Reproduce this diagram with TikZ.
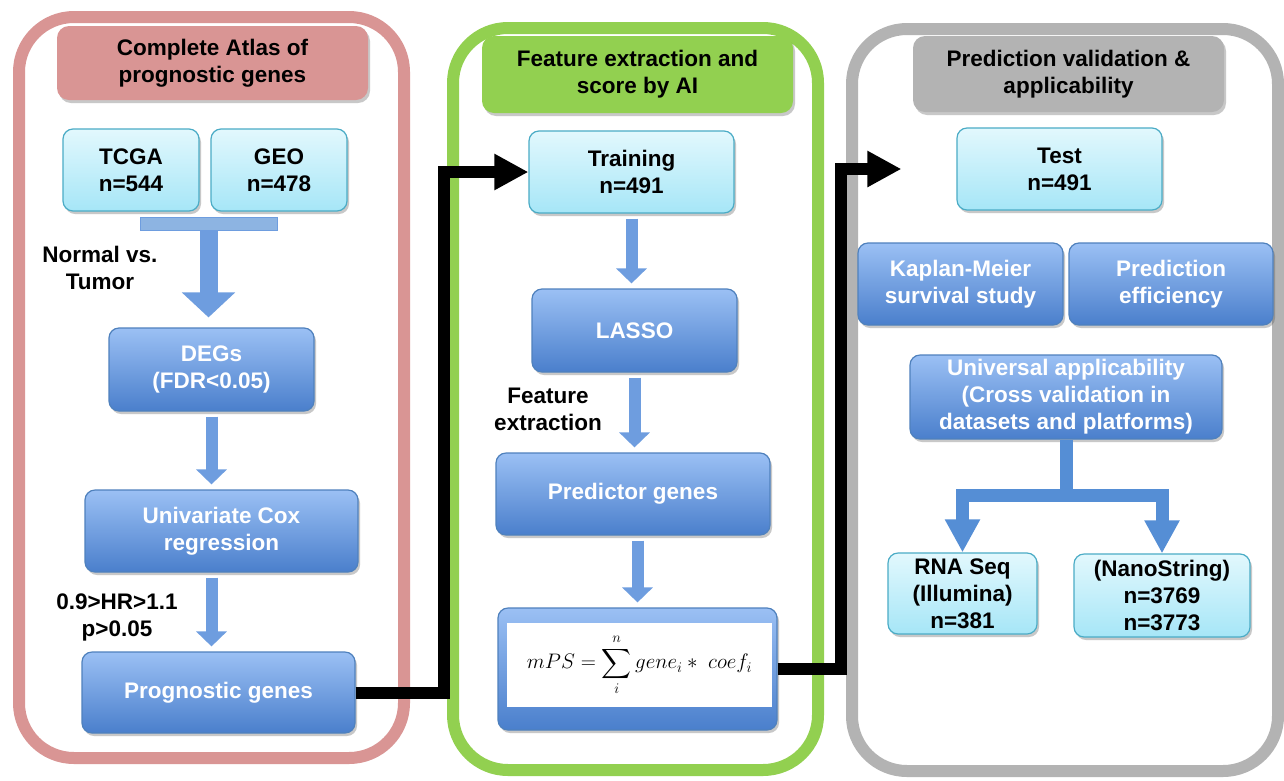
\RequirePackage{fix-cm}
\documentclass[tikz,border=0pt]{standalone}
\usepackage{amsmath}
\usepackage{fontspec}
\setmainfont{Liberation Sans}
\usepackage{tikz}
\usetikzlibrary{arrows.meta,positioning,shadows,calc}
\usepackage{xcolor}
\definecolor{AtlasPink}{HTML}{D99594}
\definecolor{FeatureGreen}{HTML}{92D050}
\definecolor{ValidGray}{HTML}{B3B3B3}
\definecolor{DataCyanTop}{HTML}{E2F8FD}
\definecolor{DataCyanBottom}{HTML}{A6E6F7}
\definecolor{DataCyanEdge}{HTML}{4BACC6}
\definecolor{StepBlueTop}{HTML}{9BC0F4}
\definecolor{StepBlueBottom}{HTML}{4A7FCC}
\definecolor{StepBlueEdge}{HTML}{4F81BD}
\definecolor{FlowBlue}{HTML}{6E9DDF}
\definecolor{FlowBlueLight}{HTML}{8DB4E2}
\definecolor{SplitBlue}{HTML}{558ED5}
\newcommand{\flowfont}{\fontsize{22.5}{27}\selectfont\bfseries}
\tikzset{
  boxshadow/.style={drop shadow={shadow xshift=2pt,shadow yshift=-3pt,opacity=0.3,fill=black!70}},
  panelframe/.style={draw=#1,line width=12pt,rounded corners=55pt,fill=white,drop shadow={shadow xshift=3pt,shadow yshift=-4pt,opacity=0.2,fill=black!70}},
  headbox/.style={fill=#1,rounded corners=12pt,minimum width=311pt,minimum height=76pt,inner sep=0pt,align=center,font=\flowfont,boxshadow},
  databox/.style={draw=DataCyanEdge,line width=1.2pt,top color=DataCyanTop,bottom color=DataCyanBottom,rounded corners=10pt,minimum height=82pt,inner sep=0pt,align=center,font=\flowfont,boxshadow},
  stepbox/.style={draw=StepBlueEdge,line width=1.2pt,top color=StepBlueTop,bottom color=StepBlueBottom,rounded corners=10pt,minimum height=82pt,inner sep=0pt,align=center,text=white,font=\flowfont,boxshadow},
  note/.style={align=center,font=\flowfont},
  tbarnode/.style={draw=FlowBlue,line width=1pt,fill=FlowBlueLight,minimum width=137pt,minimum height=13pt,inner sep=0pt},
  flowarrow/.style={-{Triangle[width=30pt,length=15pt]},line width=12pt,draw=FlowBlue,shorten <=5pt,shorten >=5pt},
  tarrow/.style={-{Triangle[width=52pt,length=25pt]},line width=18pt,draw=FlowBlue,shorten >=10pt},
  splitline/.style={line width=13pt,draw=SplitBlue},
  splitarrow/.style={-{Triangle[width=33pt,length=33pt]},line width=13pt,draw=SplitBlue},
  linkarrow/.style={-{Triangle[width=34pt,length=34pt]},line width=12pt,draw=black}
}

\begin{document}
\begin{tikzpicture}[x=1pt,y=-1pt]
\fill[white] (0,0) rectangle (1284,780);
\useasboundingbox (0,0) rectangle (1284,780);

% panels
\node[panelframe=AtlasPink,minimum width=385pt,minimum height=741pt] (atlas) at (211.5,387.5) {};
\node[panelframe=FeatureGreen,minimum width=365pt,minimum height=742pt] (feature) at (635.5,399) {};
\node[panelframe=ValidGray,minimum width=426pt,minimum height=742pt] (valid) at (1065,400) {};

\node[headbox=AtlasPink,minimum height=74pt] (atlashead) at (212.5,63) {Complete Atlas of\\prognostic genes};
\node[headbox=FeatureGreen,minimum height=77pt] (featurehead) at (637.5,74.5) {Feature extraction and\\score by AI};
\node[headbox=ValidGray] (validhead) at (1068.5,74) {Prediction validation \&\\applicability};

% left panel
\node[databox,minimum width=136pt] (tcga) at (131,170) {TCGA\\n=544};
\node[databox,minimum width=136pt] (geo) at (279,170) {GEO\\n=478};
\node[tbarnode] (tbar) at (208.5,223.5) {};
\node[stepbox,minimum width=205pt,minimum height=83pt] (degs) at (211.5,369.5) {DEGs\\(FDR<0.05)};
\node[stepbox,minimum width=273pt] (unicox) at (221.5,531) {Univariate Cox\\regression};
\node[stepbox,minimum width=273pt,minimum height=81pt] (prog) at (218.5,692.5) {Prognostic genes};
\node[note] (normtum) at (100,268) {Normal vs.\\Tumor};
\node[note] (hrcut) at (117,617) {0.9>HR>1.1\\p>0.05};

% middle panel
\node[databox,minimum width=205pt] (training) at (631.5,172) {Training\\n=491};
\node[stepbox,minimum width=205pt,minimum height=83pt] (lasso) at (634.5,330.5) {LASSO};
\node[stepbox,minimum width=274pt] (predictor) at (633,494) {Predictor genes};
\node[stepbox,minimum width=279pt,minimum height=122pt] (mps) at (637.5,669) {};
\node[fill=white,minimum width=265pt,minimum height=84pt,inner sep=0pt,font=\fontsize{21}{25}\selectfont] (mpsform) at (639.5,665)
  {$\displaystyle mPS=\sum_{i}^{n} gene_i \ast\ coef_i$};
\node[note] (featlabel) at (548,409) {Feature\\extraction};

% right panel
\node[databox,minimum width=205pt] (test) at (1059.5,169) {Test\\n=491};
\node[stepbox,minimum width=205pt] (kmstudy) at (960.5,284) {Kaplan-Meier\\survival study};
\node[stepbox,minimum width=204pt] (predeff) at (1171,284) {Prediction\\efficiency};
\node[stepbox,minimum width=312pt,minimum height=84pt] (universal) at (1066,397) {Universal applicability\\(Cross validation in\\datasets and platforms)};
\node[databox,minimum width=149pt,minimum height=81pt] (rnaseq) at (962.5,593.5) {RNA Seq\\(Illumina)\\n=381};
\node[databox,minimum width=176pt,minimum height=83pt] (nano) at (1162,595.5) {(NanoString)\\n=3769\\n=3773};

% block arrows
\draw[tarrow] (tbar.south) -- (tbar.south |- degs.north);
\draw[flowarrow] (degs.south) -- (degs.south |- unicox.north);
\draw[flowarrow] (unicox.south -| degs.south) -- (degs.south |- prog.north);
\draw[flowarrow] (training.south) -- (training.south |- lasso.north);
\draw[flowarrow] (lasso.south) -- (lasso.south |- predictor.north);
\draw[flowarrow] (predictor.south -| mps.north) -- (mps.north);

\coordinate (fork) at (1066,495);
\draw[splitline] (universal.south) -- (fork);
\draw[splitline,line cap=rect] (fork -| rnaseq.north) -- (fork -| nano.north);
\draw[splitarrow] (fork -| rnaseq.north) -- (rnaseq.north);
\draw[splitarrow] (fork -| nano.north) -- (nano.north);

% links between panels
\draw[linkarrow] (prog.east) -- ++(88,0) |- (training.west);
\draw[linkarrow,shorten >=55pt] (mps.east) -- ++(63,0) |- (test.west);
\end{tikzpicture}
\end{document}
